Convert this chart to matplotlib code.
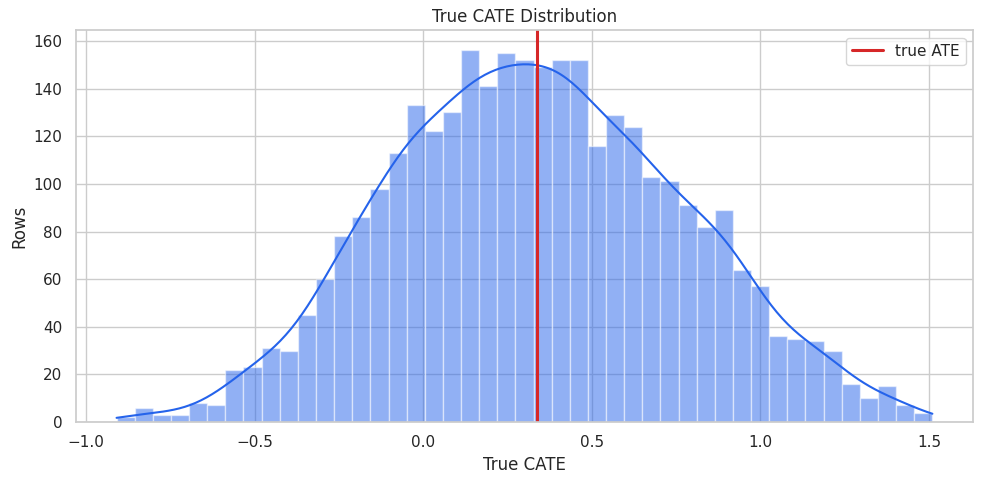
import numpy as np
import matplotlib.pyplot as plt
import seaborn as sns

sns.set_theme(style="whitegrid")

# histogram: 45 bins from -0.91 to 1.51
bin_lo = -0.91
bin_hi = 1.51
counts = [2, 6, 3, 3, 8, 7, 22, 23, 31, 30, 45, 60, 78, 86, 98, 113, 133, 122,
          130, 156, 141, 155, 152, 149, 152, 152, 116, 129, 124, 103, 101, 91,
          82, 89, 64, 57, 36, 35, 34, 30, 16, 10, 15, 7, 4]
true_ate = 0.338
color = "#2563eb"

edges = np.linspace(bin_lo, bin_hi, len(counts) + 1)
width = edges[1] - edges[0]
centers = (edges[:-1] + edges[1:]) / 2
w = np.array(counts, dtype=float)
n = w.sum()

# gaussian kde of the binned counts, scaled to counts
mean = np.average(centers, weights=w)
sd = np.sqrt(np.average((centers - mean) ** 2, weights=w))
bw = sd * n ** (-1 / 5)
xs = np.linspace(bin_lo, bin_hi, 300)
dens = (w[None, :] * np.exp(-0.5 * ((xs[:, None] - centers[None, :]) / bw) ** 2)).sum(1)
dens = dens / (n * bw * np.sqrt(2 * np.pi)) * n * width

fig, ax = plt.subplots(figsize=(9.84, 4.84), dpi=100)
ax.bar(edges[:-1], counts, width=width, align="edge", color=color, alpha=0.5,
       edgecolor="white", linewidth=1)
ax.plot(xs, dens, color=color, linewidth=1.5)
ax.axvline(true_ate, color="#d62728", linewidth=2.2, label="true ATE")
ax.set_title("True CATE Distribution")
ax.set_xlabel("True CATE")
ax.set_ylabel("Rows")
ax.set_ylim(0, 164.6)
ax.legend(loc="upper right")
fig.subplots_adjust(left=0.077, right=0.989, top=0.938, bottom=0.128)
fig.savefig("out.png")
